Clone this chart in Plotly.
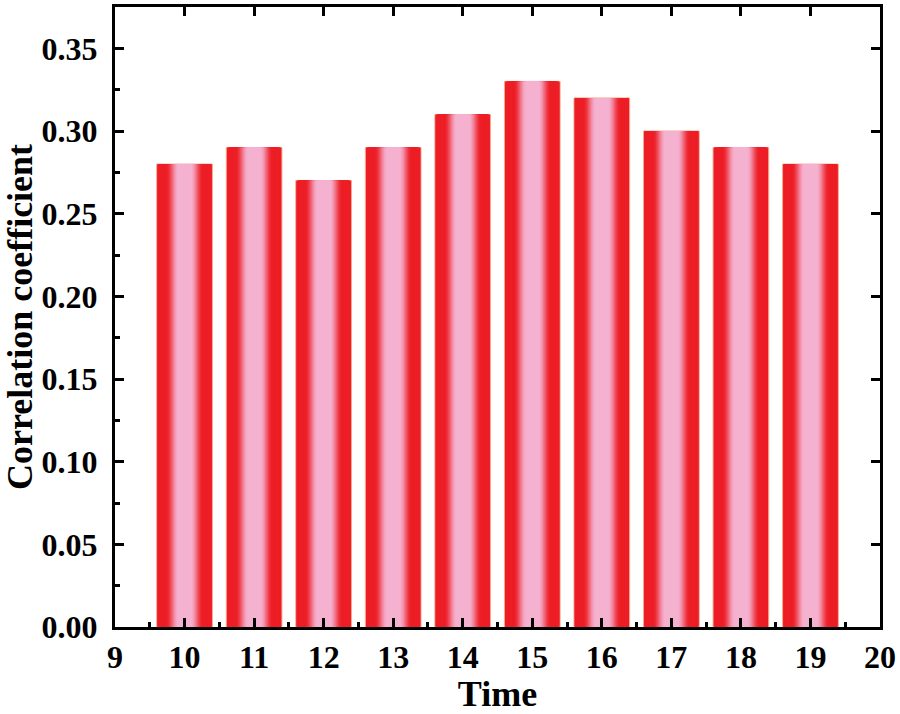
import plotly.graph_objects as go

# 數據
times = [10, 11, 12, 13, 14, 15, 16, 17, 18, 19]
corr = [0.28, 0.29, 0.27, 0.29, 0.31, 0.33, 0.32, 0.30, 0.29, 0.28]

red = (237, 30, 38)
pink = (245, 178, 208)
bar_width = 0.8
n_layers = 36
font_family = "Liberation Serif, Times New Roman, serif"


def blend(d):
    # d: 0 = bar centre, 1 = bar edge
    if d <= 0.22:
        t = 0.0
    elif d >= 0.66:
        t = 1.0
    else:
        s = (d - 0.22) / 0.44
        t = s * s * (3 - 2 * s)
    c = [round(p + (r - p) * t) for p, r in zip(pink, red)]
    return f"rgb({c[0]},{c[1]},{c[2]})"


fig = go.Figure()

# 疊加多層柱子，做出左右紅、中間粉的漸層
for k in range(n_layers):
    frac = 1 - k / n_layers
    w = bar_width * frac
    fig.add_trace(go.Bar(
        x=times, y=corr, width=w,
        marker=dict(color=blend(frac - 0.5 / n_layers),
                    line=dict(width=1 if k == 0 else 0, color="#F8A98C")),
        showlegend=False, hoverinfo="skip" if k else None
    ))

# 頂部與右側的刻度（只有主刻度）
fig.add_trace(go.Scatter(x=[9], y=[0], xaxis="x2", yaxis="y2",
                         mode="markers", marker=dict(opacity=0),
                         showlegend=False, hoverinfo="skip"))

tick_font = dict(family=font_family, size=32, color="black", weight="bold")
title_font = dict(family=font_family, size=36, color="black", weight="bold")

fig.update_layout(
    barmode="overlay",
    width=900, height=714,
    margin=dict(l=115, r=20, t=7, b=87),
    plot_bgcolor="white", paper_bgcolor="white",
    xaxis=dict(
        range=[9, 20], dtick=1, tick0=9, automargin=False,
        showline=True, linewidth=3, linecolor="black", mirror=True,
        ticks="inside", ticklen=9, tickwidth=3, tickcolor="black",
        minor=dict(dtick=0.5, ticks="inside", ticklen=5, tickwidth=3, tickcolor="black"),
        showgrid=False, zeroline=False,
        tickfont=tick_font,
        title=dict(text="Time", font=title_font, standoff=2),
    ),
    yaxis=dict(
        range=[0, 0.375], dtick=0.05, tick0=0, tickformat=".2f", automargin=False,
        showline=True, linewidth=3, linecolor="black", mirror=True,
        ticks="inside", ticklen=9, tickwidth=3, tickcolor="black",
        minor=dict(dtick=0.025, ticks="inside", ticklen=5, tickwidth=3, tickcolor="black"),
        showgrid=False, zeroline=False,
        tickfont=tick_font, ticklabelstandoff=8,
        title=dict(text="Correlation coefficient", font=title_font, standoff=6),
    ),
    xaxis2=dict(
        overlaying="x", side="top", anchor="y2", range=[9, 20], dtick=1, tick0=9,
        showline=False, showgrid=False, zeroline=False, showticklabels=False,
        ticks="inside", ticklen=9, tickwidth=3, tickcolor="black", automargin=False,
    ),
    yaxis2=dict(
        overlaying="y", side="right", anchor="x2", range=[0, 0.375], dtick=0.05, tick0=0,
        showline=False, showgrid=False, zeroline=False, showticklabels=False,
        ticks="inside", ticklen=9, tickwidth=3, tickcolor="black", automargin=False,
    ),
)

fig.write_html("out.html", config={"displayModeBar": False},
               post_script="document.body.style.margin='0';")
